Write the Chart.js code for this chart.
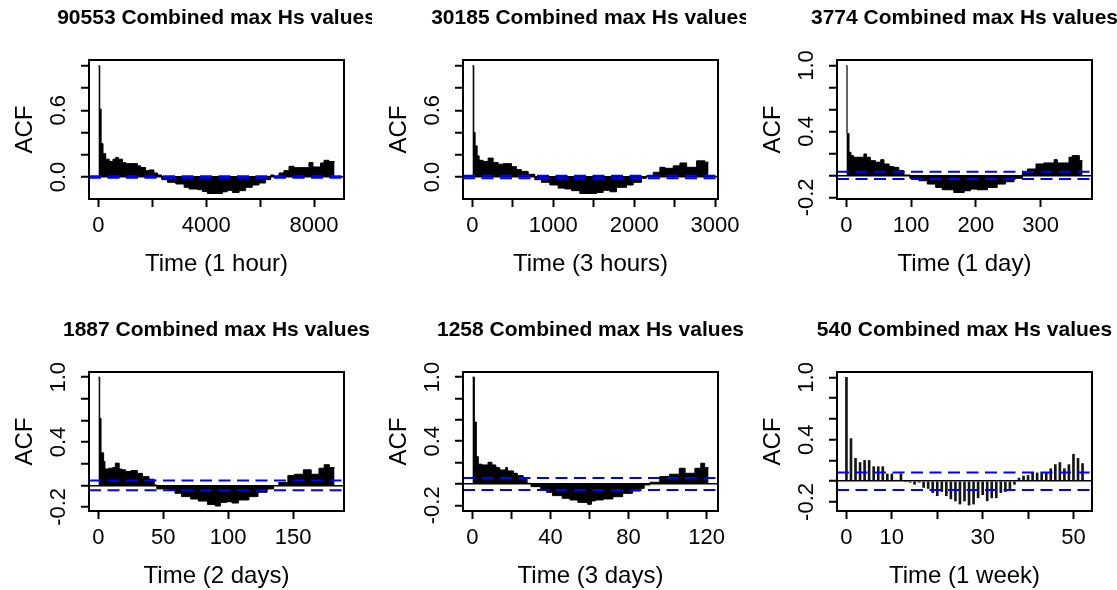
<!DOCTYPE html>
<html>
<head>
<meta charset="utf-8">
<script src="https://cdn.jsdelivr.net/npm/chart.js@4.4.0/dist/chart.umd.min.js"></script>
<style>
  html, body { margin: 0; padding: 0; background: #ffffff; }
  #wrap { position: relative; width: 1117px; height: 590px; overflow: hidden; background: #ffffff; }
  #wrap canvas { position: absolute; }
</style>
</head>
<body>
<div id="wrap"></div>
<script>
// ---------------- DATA ----------------
const titles = [
  '90553 Combined max Hs values', '30185 Combined max Hs values', '3774 Combined max Hs values',
  '1887 Combined max Hs values', '1258 Combined max Hs values', '540 Combined max Hs values'
];
const xTitles = ['Time (1 hour)', 'Time (3 hours)', 'Time (1 day)', 'Time (2 days)', 'Time (3 days)', 'Time (1 week)'];
const maxLags = [8760, 2920, 365, 182, 121, 52];
const ciBounds = [0.0065, 0.0113, 0.0319, 0.0451, 0.0553, 0.0843];
const yRanges = [[-0.198, 1.052], [-0.198, 1.052], [-0.215, 1.050], [-0.238, 1.048], [-0.253, 1.048], [-0.287, 1.052]];
const xTickValues = [
  [0, 2000, 4000, 6000, 8000], [0, 500, 1000, 1500, 2000, 2500, 3000], [0, 100, 200, 300],
  [0, 50, 100, 150], [0, 20, 40, 60, 80, 100, 120], [0, 10, 20, 30, 40, 50]
];
const xTickLabels = [[0, 4000, 8000], [0, 1000, 2000, 3000], [0, 100, 200, 300], [0, 50, 100, 150], [0, 40, 80, 120], [0, 10, 30, 50]];
const yTickValues = [
  [0, 0.2, 0.4, 0.6, 0.8, 1.0], [0, 0.2, 0.4, 0.6, 0.8, 1.0], [-0.2, 0, 0.2, 0.4, 0.6, 0.8, 1.0],
  [-0.2, 0, 0.2, 0.4, 0.6, 0.8, 1.0], [-0.2, 0, 0.2, 0.4, 0.6, 0.8, 1.0], [-0.2, 0, 0.2, 0.4, 0.6, 0.8, 1.0]
];
const yTickLabels = [[0.0, 0.6], [0.0, 0.6], [-0.2, 0.4, 1.0], [-0.2, 0.4, 1.0], [-0.2, 0.4, 1.0], [-0.2, 0.4, 1.0]];

// hourly (value holds from this lag to the next listed lag)
const lags1 = [0, 50, 100, 170, 270, 400, 540, 640, 740, 890, 1010, 1450, 1570, 1750, 1880, 2060, 2190, 2350, 2560, 2870, 3180, 3360, 3670, 3860, 4040, 4600, 4780, 4970, 5220, 5460, 5710, 5960, 6200, 6390, 6510, 6700, 6880, 7070, 7260, 7810, 7960, 8240, 8370, 8550, 8760];
const acf1 = [1.0, 0.61, 0.30, 0.21, 0.16, 0.14, 0.16, 0.175, 0.16, 0.13, 0.12, 0.10, 0.085, 0.057, 0.063, 0.036, 0.018, -0.024, -0.048, -0.063, -0.093, -0.108, -0.114, -0.13, -0.148, -0.133, -0.12, -0.139, -0.123, -0.093, -0.072, -0.054, -0.024, 0.018, 0.006, 0.036, 0.057, 0.096, 0.084, 0.13, 0.09, 0.126, 0.15, 0.139, 0.139];
// 3-hourly
const lags2 = [0, 17, 33, 58, 83, 132, 194, 256, 318, 380, 483, 545, 606, 689, 771, 854, 957, 1060, 1143, 1225, 1328, 1534, 1617, 1700, 1782, 1906, 1988, 2091, 2153, 2236, 2318, 2380, 2483, 2566, 2649, 2772, 2876, 2920];
const acf2 = [1.0, 0.40, 0.28, 0.19, 0.15, 0.14, 0.17, 0.13, 0.115, 0.12, 0.093, 0.066, 0.05, 0.024, -0.024, -0.048, -0.072, -0.1, -0.108, -0.123, -0.148, -0.139, -0.12, -0.133, -0.093, -0.072, -0.048, -0.012, 0.012, 0.042, 0.087, 0.078, 0.10, 0.126, 0.087, 0.145, 0.133, 0.133];
// daily
const lags3 = [0, 1, 4, 7, 11, 27, 31, 37, 45, 53, 58, 66, 73, 81, 89, 98, 112, 125, 138, 148, 166, 182, 192, 202, 218, 233, 246, 259, 272, 280, 293, 305, 321, 326, 344, 349, 360, 365];
const acf3 = [1.0, 0.38, 0.21, 0.18, 0.165, 0.195, 0.165, 0.134, 0.12, 0.143, 0.104, 0.08, 0.073, 0.043, 0.003, -0.027, -0.049, -0.079, -0.11, -0.131, -0.156, -0.14, -0.125, -0.131, -0.11, -0.079, -0.058, -0.027, 0.027, 0.058, 0.104, 0.113, 0.143, 0.113, 0.165, 0.18, 0.134, 0.134];
// 2 days
const lags4 = [0, 1, 2, 4, 5, 8, 11, 13, 16, 18, 21, 25, 30, 34, 39, 43, 45, 53, 59, 64, 71, 77, 84, 90, 94, 99, 103, 108, 116, 123, 130, 135, 139, 146, 151, 158, 164, 170, 174, 178, 182];
const acf4 = [1.0, 0.62, 0.30, 0.22, 0.15, 0.158, 0.164, 0.205, 0.15, 0.143, 0.127, 0.136, 0.11, 0.08, 0.056, 0.003, -0.034, -0.047, -0.074, -0.105, -0.127, -0.146, -0.177, -0.192, -0.158, -0.152, -0.164, -0.136, -0.105, -0.065, -0.034, -0.003, 0.025, 0.09, 0.102, 0.143, 0.102, 0.158, 0.19, 0.164, 0.164];
// 3 days
const lags5 = [0, 1, 2, 3, 5, 8, 10, 12, 14, 17, 18, 21, 23, 26, 28, 30, 35, 38, 41, 46, 50, 54, 59, 61, 63, 67, 72, 77, 82, 86, 88, 91, 96, 101, 106, 109, 114, 117, 119, 121];
const acf5 = [1.0, 0.58, 0.256, 0.185, 0.178, 0.203, 0.178, 0.153, 0.131, 0.153, 0.122, 0.1, 0.078, 0.059, 0.006, -0.025, -0.047, -0.078, -0.109, -0.134, -0.15, -0.172, -0.19, -0.159, -0.15, -0.14, -0.119, -0.088, -0.066, -0.041, -0.009, 0.016, 0.069, 0.091, 0.147, 0.1, 0.147, 0.194, 0.153, 0.153];
// weekly (one bar per lag)
const lags6 = [0, 1, 2, 3, 4, 5, 6, 7, 8, 9, 10, 11, 12, 13, 14, 15, 16, 17, 18, 19, 20, 21, 22, 23, 24, 25, 26, 27, 28, 29, 30, 31, 32, 33, 34, 35, 36, 37, 38, 39, 40, 41, 42, 43, 44, 45, 46, 47, 48, 49, 50, 51, 52];
const acf6 = [1.0, 0.41, 0.22, 0.18, 0.20, 0.20, 0.14, 0.14, 0.14, 0.07, 0.07, 0.01, 0.07, 0.0, -0.01, -0.03, -0.01, -0.06, -0.07, -0.11, -0.14, -0.10, -0.14, -0.17, -0.19, -0.22, -0.19, -0.23, -0.22, -0.16, -0.13, -0.19, -0.16, -0.16, -0.11, -0.10, -0.08, -0.03, 0.03, 0.05, 0.055, 0.08, 0.08, 0.08, 0.08, 0.12, 0.16, 0.18, 0.12, 0.16, 0.26, 0.22, 0.17];

const panelLags = [lags1, lags2, lags3, lags4, lags5, lags6];
const panelAcf = [acf1, acf2, acf3, acf4, acf5, acf6];

// ---------------- RENDER ----------------
const FONT = '"Liberation Sans", Arial, Helvetica, sans-serif';
const CW = 372, CH = 278;
const AXIS_W = 89, AXIS_H = 79, PAD_R = 28;
const TICK_FONT = 22;

const measureCtx = document.createElement('canvas').getContext('2d');
measureCtx.font = TICK_FONT + 'px ' + FONT;

const rBoxPlugin = {
  id: 'rBox',
  afterLayout(chart) {
    const t = chart.titleBlock, ca = chart.chartArea;
    if (t) {
      const half = (t.right - t.left) / 2;
      const c = (ca.left + ca.right) / 2;
      t.left = c - half; t.right = c + half;
    }
  },
  afterDraw(chart) {
    const { ctx, chartArea: ca } = chart;
    ctx.save();
    ctx.strokeStyle = '#000';
    ctx.lineWidth = 2;
    ctx.strokeRect(ca.left, ca.top, ca.right - ca.left, ca.bottom - ca.top);
    ctx.restore();
  }
};

const wrap = document.getElementById('wrap');
const colX = [0, 374, 748], rowY = [0, 312];

for (let p = 0; p < 6; p++) {
  const cv = document.createElement('canvas');
  cv.width = CW; cv.height = CH;
  cv.style.left = colX[p % 3] + 'px';
  cv.style.top = rowY[Math.floor(p / 3)] + 'px';
  cv.style.width = CW + 'px'; cv.style.height = CH + 'px';
  wrap.appendChild(cv);

  const L = maxLags[p];
  const xmin = -0.04 * L, xmax = 1.04 * L;
  const ci = ciBounds[p];
  const yl = yTickLabels[p].map(v => v.toFixed(1));
  const widest = Math.max(...yl.map(s => measureCtx.measureText(s).width));
  const yPad = 22.5 - widest / 2;

  const dashStyle = { borderColor: '#0000ff', borderWidth: 2, borderDash: [12, 6.5], pointRadius: 0, fill: false, tension: 0 };
  const datasets = [
    Object.assign({ type: 'line', data: [{ x: xmin, y: ci }, { x: xmax, y: ci }] }, dashStyle),
    Object.assign({ type: 'line', data: [{ x: xmin, y: -ci }, { x: xmax, y: -ci }] }, dashStyle)
  ];
  const pts = panelLags[p].map((l, i) => ({ x: l, y: panelAcf[p][i] }));
  if (p === 5) {
    datasets.push({ type: 'bar', data: pts, backgroundColor: '#151515', barThickness: 2, borderWidth: 0 });
  } else {
    datasets.push({ type: 'line', data: pts, stepped: true, fill: 'origin', backgroundColor: '#000', borderColor: '#000', borderWidth: 1, pointRadius: 0 });
  }

  new Chart(cv, {
    type: 'line',
    data: { datasets },
    options: {
      responsive: false,
      devicePixelRatio: 1,
      animation: false,
      events: [],
      layout: { padding: { left: 0, right: PAD_R, top: 0, bottom: 0 } },
      plugins: {
        legend: { display: false },
        tooltip: { enabled: false },
        title: {
          display: true, text: titles[p], color: '#000',
          font: { family: FONT, size: 21, weight: 'bold' },
          padding: { top: 6, bottom: 28.8 }
        }
      },
      scales: {
        x: {
          type: 'linear', position: 'bottom', min: xmin, max: xmax, offset: false,
          afterBuildTicks(s) { s.ticks = xTickValues[p].map(v => ({ value: v })); },
          afterFit(s) { s.height = AXIS_H; s.paddingLeft = 0; s.paddingRight = 0; },
          border: { display: false },
          grid: { display: true, drawOnChartArea: false, drawTicks: true, tickLength: 8, tickWidth: 2, tickColor: '#000', offset: false },
          ticks: {
            autoSkip: false, maxRotation: 0, minRotation: 0,
            color: '#000', font: { family: FONT, size: TICK_FONT }, padding: 6,
            callback: (v) => xTickLabels[p].includes(v) ? String(v) : ''
          },
          title: { display: true, text: xTitles[p], color: '#000', font: { family: FONT, size: 24 }, padding: { top: 0, bottom: -1 } }
        },
        y: {
          type: 'linear', position: 'left', min: yRanges[p][0], max: yRanges[p][1],
          afterBuildTicks(s) { s.ticks = yTickValues[p].map(v => ({ value: v })); },
          afterFit(s) { s.width = AXIS_W; s.paddingTop = 0; s.paddingBottom = 0; },
          border: { display: false },
          grid: {
            display: true, drawOnChartArea: true, drawTicks: true, tickLength: 8, tickWidth: 2, tickColor: '#000',
            lineWidth: 1.5,
            color: (c) => (c.tick && Math.abs(c.tick.value) < 1e-9) ? '#000' : 'rgba(0,0,0,0)'
          },
          ticks: {
            autoSkip: false, minRotation: 90, maxRotation: 90,
            crossAlign: 'center', padding: yPad,
            color: '#000', font: { family: FONT, size: TICK_FONT },
            callback: (v) => {
              const r = Math.round(v * 10) / 10;
              return yTickLabels[p].some(t => Math.abs(t - r) < 1e-9) ? r.toFixed(1) : '';
            }
          },
          title: { display: true, text: 'ACF', color: '#000', font: { family: FONT, size: 24 }, padding: { top: 11, bottom: 0 } }
        }
      }
    },
    plugins: [rBoxPlugin]
  });
}
</script>
</body>
</html>
